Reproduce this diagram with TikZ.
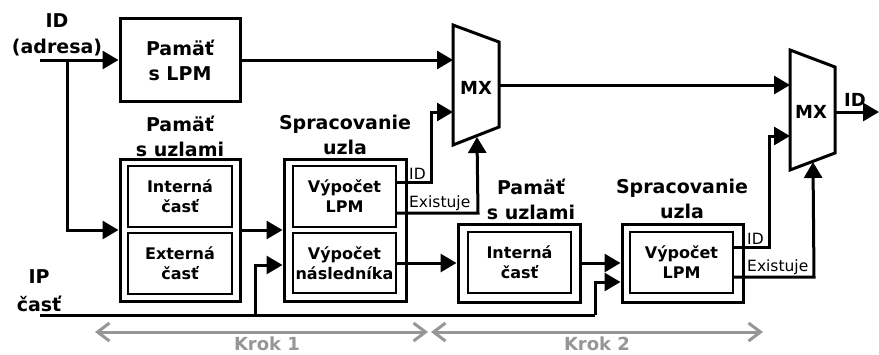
\documentclass[tikz,border=0pt]{standalone}
\usepackage{fontspec}
\setmainfont{DejaVu Sans}
\usetikzlibrary{arrows.meta}
\definecolor{kroksivy}{RGB}{150,150,150}

\begin{document}
\begin{tikzpicture}[x=1pt, y=-1pt,
  box/.style={draw, line width=3pt, inner sep=0pt},
  innerbox/.style={draw, line width=2pt, align=center, inner sep=0pt,
    font=\bfseries\fontsize{16}{20}\selectfont},
  title/.style={align=center, font=\bfseries\fontsize{19}{25}\selectfont},
  wire/.style={line width=3pt},
  conn/.style={line width=3pt, arrows={-Triangle[length=16pt, width=18pt]}},
  sig/.style={font=\fontsize{15.5}{17}\selectfont, inner sep=1pt},
  krok/.style={draw=kroksivy, line width=3pt,
    arrows={Straight Barb[length=12pt, width=18pt]-Straight Barb[length=12pt, width=18pt]}}]
\useasboundingbox (0,0) rectangle (879,354);

% vstupy
\node[title, font=\bfseries\fontsize{19}{26}\selectfont] at (57,35) (idlabel) {ID\\(adresa)};
\node[title, font=\bfseries\fontsize{19}{28}\selectfont] at (39,291) (iplabel) {IP\\časť};
\coordinate (idin) at (40,60);
\coordinate (idsplit) at (67,60);
\coordinate (ipin) at (40,315);

% pamat s LPM
\node[box, align=center, minimum width=120, minimum height=83,
  font=\bfseries\fontsize{19}{25}\selectfont] at (180,60) (lpm) {Pamäť\\s LPM};

% krok 1
\node[title] at (180,136) (mem1title) {Pamäť\\s uzlami};
\node[box, minimum width=120, minimum height=142] at (180,230) (mem1) {};
\node[innerbox, minimum width=104, minimum height=61] at (180,196.5) (int1) {Interná\\časť};
\node[innerbox, minimum width=104, minimum height=61] at (180,263.5) (ext1) {Externá\\časť};

\node[title] at (345,135) (proc1title) {Spracovanie\\uzla};
\node[box, minimum width=122, minimum height=142] at (345,230) (proc1) {};
\node[innerbox, minimum width=103, minimum height=61] at (344.5,196.5) (lpm1) {Výpočet\\LPM};
\node[innerbox, minimum width=103, minimum height=60] at (344.5,263) (nasl1) {Výpočet\\následníka};

% krok 2
\node[title] at (531,199) (mem2title) {Pamäť\\s uzlami};
\node[box, minimum width=122, minimum height=78] at (519,263) (mem2) {};
\node[innerbox, minimum width=103, minimum height=61] at (519.5,262.5) (int2) {Interná\\časť};

\node[title] at (682,199) (proc2title) {Spracovanie\\uzla};
\node[box, minimum width=121, minimum height=78] at (682.5,263) (proc2) {};
\node[innerbox, minimum width=103, minimum height=61] at (681.5,262.5) (lpm2) {Výpočet\\LPM};

% multiplexory
\draw[line width=3pt, line join=miter] (453,25) -- (499,42) -- (499,127) -- (453,145) -- cycle;
\node[font=\bfseries\fontsize{18}{20}\selectfont] at (476,88) (mx1) {MX};
\coordinate (mx1a) at (453,60);
\coordinate (mx1b) at (453,112);
\coordinate (mx1c) at (477,137);
\coordinate (mx1out) at (499,85);

\draw[line width=3pt, line join=miter] (790,50) -- (835,67) -- (835,153) -- (790,170) -- cycle;
\node[font=\bfseries\fontsize{18}{20}\selectfont] at (811,112) (mx2) {MX};
\coordinate (mx2a) at (790,85);
\coordinate (mx2b) at (790,136);
\coordinate (mx2c) at (813,162);
\coordinate (mx2out) at (835,112);
\coordinate (idout) at (879,112);

% spoje
\draw[conn] (idin) -- (lpm.west);
\draw[conn] (idsplit) |- (mem1.west);
\draw[conn] (lpm.east |- mx1a) -- (mx1a);
\draw[conn] (mem1.east) -- (proc1.west);
\draw[wire] (ipin) -- (595,315);
\draw[conn] (255,315) |- ([yshift=-35pt]proc1.west);
\draw[conn] (595,315) |- ([yshift=-19pt]proc2.west);
\draw[conn] ([yshift=14.5pt]lpm1.east) -- ++(34,0) |- (mx1b);
\draw[conn] ([yshift=-16.5pt]lpm1.east) -- ++(81,0) -- (mx1c);
\draw[conn] (nasl1.east) -- (mem2.west);
\draw[conn] (mem2.east) -- (proc2.west);
\draw[conn] ([yshift=15.5pt]lpm2.east) -- ++(35,0) |- (mx2b);
\draw[conn] ([yshift=-14.5pt]lpm2.east) -- ++(80,0) -- (mx2c);
\draw[conn] (mx1out) -- (mx2a);
\draw[conn] (mx2out) -- (idout);

% popisy signalov
\node[sig, anchor=south west] at (408,181) (id1) {ID};
\node[sig, anchor=south west] at (408,212) (ex1) {Existuje};
\node[sig, anchor=south west] at (746,246) (id2) {ID};
\node[sig, anchor=south west] at (746,276) (ex2) {Existuje};
\node[font=\bfseries\fontsize{18}{20}\selectfont] at (855,100) (idoutlabel) {ID};

% kroky
\coordinate (k1a) at (95,332);
\coordinate (k1b) at (428,332);
\coordinate (k2a) at (431,332);
\coordinate (k2b) at (763,332);
\draw[krok] (k1a) -- (k1b);
\draw[krok] (k2a) -- (k2b);
\node[text=kroksivy, font=\bfseries\fontsize{18}{20}\selectfont] at (267,344) (krok1) {Krok 1};
\node[text=kroksivy, font=\bfseries\fontsize{18}{20}\selectfont] at (597,344) (krok2) {Krok 2};
\end{tikzpicture}
\end{document}
